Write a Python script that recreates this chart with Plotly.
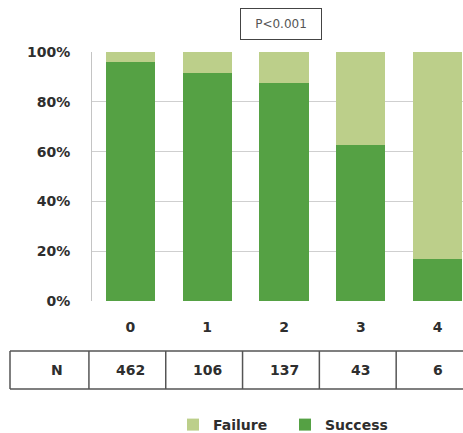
import plotly.graph_objects as go

# Number of criteria met, sample size per group and share of successful outcomes
categories = ["0", "1", "2", "3", "4"]
n_counts = [462, 106, 137, 43, 6]
success_pct = [96.1, 91.5, 87.6, 62.8, 16.7]
failure_pct = [round(100 - s, 1) for s in success_pct]
y_ticks = [0, 20, 40, 60, 80, 100]
y_tick_labels = [f"{t}%" for t in y_ticks]
p_value_label = "P<0.001"

SUCCESS_COLOR = "#55a144"
FAILURE_COLOR = "#bccf8a"
TEXT_COLOR = "#2e2e2e"
FONT = "DejaVu Sans"

W, H = 463, 433
M_L, M_R, M_T, M_B = 92, 0, 52, 132
X_RANGE = [-0.5, 4.33]

x_pos = list(range(len(categories)))

fig = go.Figure()
fig.add_trace(go.Bar(x=x_pos, y=success_pct, name="<b>Success</b>",
                     marker=dict(color=SUCCESS_COLOR, line=dict(width=0))))
fig.add_trace(go.Bar(x=x_pos, y=failure_pct, name="<b>Failure</b>",
                     marker=dict(color=FAILURE_COLOR, line=dict(width=0))))

plot_w = W - M_L - M_R
plot_h = H - M_T - M_B


def xpaper(v):
    """Convert an x-axis data value into paper coordinates."""
    return (v - X_RANGE[0]) / (X_RANGE[1] - X_RANGE[0])


def px_x(px):
    return (px - M_L) / plot_w


def px_y(py):
    return (H - M_B - py) / plot_h


# Sample-size table below the axis
table_top, table_bot = px_y(351), px_y(389)
table_left = px_x(10)
line_style = dict(color="#555555", width=1.5)
shapes = [
    dict(type="line", xref="paper", yref="paper", x0=table_left, x1=1.0,
         y0=table_top, y1=table_top, line=line_style),
    dict(type="line", xref="paper", yref="paper", x0=table_left, x1=1.0,
         y0=table_bot, y1=table_bot, line=line_style),
    dict(type="line", xref="paper", yref="paper", x0=table_left, x1=table_left,
         y0=table_top, y1=table_bot, line=line_style),
]
for k in x_pos:
    xb = xpaper(k - 0.54)
    shapes.append(dict(type="line", xref="paper", yref="paper", x0=xb, x1=xb,
                       y0=table_top, y1=table_bot, line=line_style))

row_y = (table_top + table_bot) / 2
annotations = [
    dict(x=(table_left + xpaper(-0.54)) / 2, y=row_y, xref="paper", yref="paper",
         text="<b>N</b>", showarrow=False, yanchor="middle",
         font=dict(family=FONT, size=14, color=TEXT_COLOR)),
]
for k, n in zip(x_pos, n_counts):
    annotations.append(dict(x=k, y=row_y, xref="x", yref="paper",
                            text=f"<b>{n}</b>", showarrow=False, yanchor="middle",
                            font=dict(family=FONT, size=14, color=TEXT_COLOR)))

# P-value box above the bars
annotations.append(dict(x=px_x(281), y=px_y(24), xref="paper", yref="paper",
                        xanchor="center", yanchor="middle",
                        text=p_value_label, showarrow=False, width=78, height=28,
                        bordercolor="#444444", borderwidth=1, bgcolor="white",
                        font=dict(family=FONT, size=12, color="#555555")))

fig.update_layout(
    width=W, height=H,
    margin=dict(l=M_L, r=M_R, t=M_T, b=M_B, autoexpand=False),
    barmode="stack", bargap=0.36,
    plot_bgcolor="white", paper_bgcolor="white",
    showlegend=True,
    legend=dict(orientation="h", traceorder="reversed",
                x=px_x(173), xanchor="left", y=px_y(425), yanchor="middle",
                font=dict(family=FONT, size=14, color=TEXT_COLOR),
                entrywidth=67, entrywidthmode="pixels",
                itemsizing="constant"),
    xaxis=dict(range=X_RANGE, tickmode="array", tickvals=x_pos,
               ticktext=[f"<b>{c}</b>" for c in categories],
               showgrid=False, zeroline=False, showline=False,
               ticks="", ticklabelstandoff=16, automargin=False,
               tickfont=dict(family=FONT, size=14, color=TEXT_COLOR)),
    yaxis=dict(range=[0, 100], tickmode="array", tickvals=y_ticks,
               ticktext=[f"<b>{t}</b>" for t in y_tick_labels],
               showgrid=True, gridcolor="#cfcfcf", gridwidth=1,
               zeroline=False, showline=True, linecolor="#c4c4c4", linewidth=1,
               ticks="", ticklabelstandoff=18, automargin=False,
               tickfont=dict(family=FONT, size=14, color=TEXT_COLOR)),
    shapes=shapes,
    annotations=annotations,
)

fig.write_html("out.html")
